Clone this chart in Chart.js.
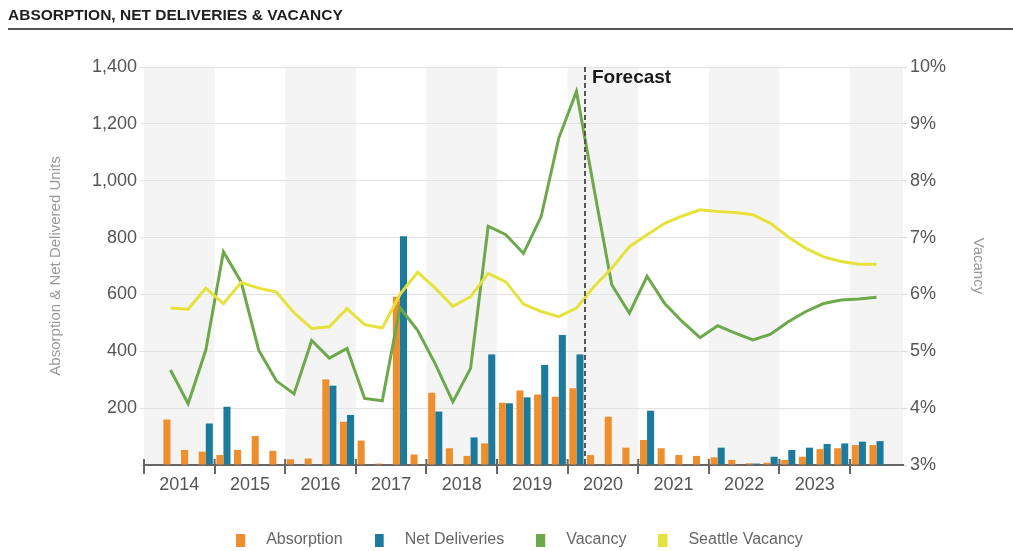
<!DOCTYPE html>
<html>
<head>
<meta charset="utf-8">
<script src="https://cdn.jsdelivr.net/npm/chart.js@4.4.1/dist/chart.umd.min.js"></script>
<style>
  body { margin: 0; background: #fff; }
  #wrap { position: relative; width: 1013px; height: 551px; }
  #title {
    position: absolute; left: 8px; right: 0; top: 6px;
    font: bold 15.5px 'Liberation Sans', Arial, sans-serif; line-height: 17px;
    color: #1e1e1e; padding-bottom: 5px; border-bottom: 2px solid #555;
  }
  canvas { position: absolute; left: 0; top: 0; }
</style>
</head>
<body>
<div id="wrap">
  <canvas id="chart" width="1013" height="551"></canvas>
  <div id="title">ABSORPTION, NET DELIVERIES &amp; VACANCY</div>
</div>
<script>
// quarterly series, 2014 Q2 .. 2024 Q2
const quarters = [
  '2014 Q2', '2014 Q3', '2014 Q4',
  '2015 Q1', '2015 Q2', '2015 Q3', '2015 Q4',
  '2016 Q1', '2016 Q2', '2016 Q3', '2016 Q4',
  '2017 Q1', '2017 Q2', '2017 Q3', '2017 Q4',
  '2018 Q1', '2018 Q2', '2018 Q3', '2018 Q4',
  '2019 Q1', '2019 Q2', '2019 Q3', '2019 Q4',
  '2020 Q1', '2020 Q2', '2020 Q3', '2020 Q4',
  '2021 Q1', '2021 Q2', '2021 Q3', '2021 Q4',
  '2022 Q1', '2022 Q2', '2022 Q3', '2022 Q4',
  '2023 Q1', '2023 Q2', '2023 Q3', '2023 Q4',
  '2024 Q1', '2024 Q2'
];
const absorption = [160, 53, 47, 35, 53, 102, 50, 20, 23, 301, 152, 86, 5, 592, 37, 254, 59, 32, 76, 219,
  262, 248, 240, 270, 35, 170, 61, 88, 59, 35, 32, 27, 18, 6, 8, 18, 29, 56, 59, 70, 70];
const netDeliveries = [0, 0, 146, 205, 0, 0, 0, 0, 0, 279, 176, 0, 0, 805, 0, 188, 0, 97, 389, 217,
  238, 352, 457, 389, 0, 0, 0, 191, 0, 0, 0, 61, 0, 5, 29, 53, 61, 74, 76, 82, 84];
const vacancy = [4.67, 4.08, 5.02, 6.75, 6.22, 5.02, 4.48, 4.25, 5.19, 4.88, 5.05, 4.17, 4.13, 5.77, 5.37,
  4.78, 4.11, 4.70, 7.20, 7.05, 6.72, 7.37, 8.75, 9.57, 7.85, 6.17, 5.67, 6.32, 5.84, 5.52, 5.24, 5.45,
  5.32, 5.20, 5.30, 5.52, 5.70, 5.84, 5.90, 5.92, 5.95];
const seattleVacancy = [5.76, 5.74, 6.11, 5.84, 6.21, 6.11, 6.04, 5.68, 5.40, 5.43, 5.75, 5.47, 5.41, 6.00,
  6.39, 6.11, 5.79, 5.96, 6.37, 6.22, 5.83, 5.70, 5.61, 5.76, 6.14, 6.46, 6.84, 7.05, 7.25, 7.38, 7.49,
  7.46, 7.44, 7.40, 7.25, 7.01, 6.81, 6.66, 6.58, 6.53, 6.53];
const yearLabels = [2014, 2015, 2016, 2017, 2018, 2019, 2020, 2021, 2022, 2023];
const forecastStart = '2020 Q2';

const colors = { absorption: '#ee8e2c', net: '#1c7a9c', vacancy: '#6da84b', seattle: '#e6e23c' };
Chart.defaults.font.family = "'Liberation Sans', Arial, sans-serif";

// place a quarter in the middle of its slot on a year axis
function quarterPos(label) {
  const parts = label.split(' Q');
  return Number(parts[0]) + (Number(parts[1]) - 0.5) / 4;
}
const toPoints = vals => vals.map((v, i) => ({ x: quarterPos(quarters[i]), y: v }));

function swatch(color) {
  const c = document.createElement('canvas');
  c.width = 22; c.height = 13;
  const g = c.getContext('2d');
  g.fillStyle = color;
  g.fillRect(0, 0, 9, 13);
  return c;
}

const bandsAndForecast = {
  id: 'bandsAndForecast',
  beforeDraw(chart) {
    const { ctx, chartArea: a, scales: { x } } = chart;
    ctx.save();
    ctx.fillStyle = '#f4f4f4';
    for (let yr = yearLabels[0]; yr < x.max; yr += 2) {
      const l = x.getPixelForValue(yr);
      const r = x.getPixelForValue(Math.min(yr + 1, x.max));
      ctx.fillRect(l, a.top, r - l, a.bottom - a.top);
    }
    ctx.restore();
  },
  afterDatasetsDraw(chart) {
    const { ctx, chartArea: a, scales: { x } } = chart;
    ctx.save();
    // year ticks poke a little above the axis line
    ctx.strokeStyle = '#666';
    ctx.lineWidth = 2;
    yearLabels.concat(yearLabels[yearLabels.length - 1] + 1).forEach(yr => {
      const px = x.getPixelForValue(yr);
      ctx.beginPath();
      ctx.moveTo(px, a.bottom - 6);
      ctx.lineTo(px, a.bottom);
      ctx.stroke();
    });
    const fx = Math.round(x.getPixelForValue(quarterPos(forecastStart) - 0.125));
    ctx.strokeStyle = '#555';
    ctx.setLineDash([5, 3]);
    ctx.beginPath();
    ctx.moveTo(fx, a.top);
    ctx.lineTo(fx, a.bottom);
    ctx.stroke();
    ctx.setLineDash([]);
    ctx.fillStyle = '#1a1a1a';
    ctx.font = "bold 19px 'Liberation Sans', Arial, sans-serif";
    ctx.textBaseline = 'middle';
    ctx.fillText('Forecast', fx + 7, a.top + 11);
    ctx.restore();
  }
};

new Chart(document.getElementById('chart'), {
  type: 'bar',
  data: {
    datasets: [
      { label: 'Absorption', data: toPoints(absorption), backgroundColor: colors.absorption,
        categoryPercentage: 0.8, barPercentage: 1.0, yAxisID: 'y', order: 2 },
      { label: 'Net Deliveries', data: toPoints(netDeliveries), backgroundColor: colors.net,
        categoryPercentage: 0.8, barPercentage: 1.0, yAxisID: 'y', order: 2 },
      { type: 'line', label: 'Vacancy', data: toPoints(vacancy), borderColor: colors.vacancy,
        backgroundColor: colors.vacancy, borderWidth: 3, pointRadius: 0, tension: 0, yAxisID: 'y1', order: 1 },
      { type: 'line', label: 'Seattle Vacancy', data: toPoints(seattleVacancy), borderColor: colors.seattle,
        backgroundColor: colors.seattle, borderWidth: 3, pointRadius: 0, tension: 0, yAxisID: 'y1', order: 0 }
    ]
  },
  options: {
    responsive: false,
    animation: false,
    layout: { padding: { top: 67, left: 26, right: 0, bottom: -7 } },
    plugins: {
      tooltip: { enabled: false },
      legend: {
        position: 'bottom',
        labels: {
          sort: (a, b) => a.datasetIndex - b.datasetIndex,
          usePointStyle: true, pointStyleWidth: 22, boxHeight: 13, padding: 32,
          color: '#666', font: { size: 16 },
          generateLabels: chart => Chart.defaults.plugins.legend.labels.generateLabels(chart)
            .map(l => Object.assign(l, { pointStyle: swatch(l.fillStyle), lineWidth: 0 }))
        }
      }
    },
    scales: {
      x: {
        type: 'linear', min: 2014, max: 2024.75, offset: false,
        afterBuildTicks: s => {
          const t = [];
          yearLabels.forEach(yr => { t.push({ value: yr }); t.push({ value: yr + 0.5 }); });
          t.push({ value: yearLabels[yearLabels.length - 1] + 1 });
          s.ticks = t;
        },
        afterFit: s => { s.height = 35; },
        ticks: {
          autoSkip: false, maxRotation: 0, padding: 0, color: '#555', font: { size: 18 },
          callback: v => (v % 1 ? String(Math.floor(v)) : '')
        },
        grid: {
          offset: false, drawOnChartArea: false, drawTicks: true, tickLength: 9, lineWidth: 2,
          color: c => (c.tick && c.tick.value % 1 === 0 ? '#666' : 'rgba(0,0,0,0)')
        },
        border: { display: true, color: '#666', width: 2 }
      },
      y: {
        position: 'left', min: 0, max: 1400,
        afterFit: s => { s.width = 118; },
        ticks: {
          stepSize: 200, padding: 3, color: '#555', font: { size: 18 },
          callback: v => (v === 0 ? '' : v.toLocaleString('en-US'))
        },
        grid: { color: '#e2e2e2', tickLength: 4 },
        border: { display: false },
        title: { display: true, text: 'Absorption & Net Delivered Units', color: '#999',
          font: { size: 15 }, padding: { top: 21, bottom: 0 } }
      },
      y1: {
        position: 'right', min: 3, max: 10,
        afterFit: s => { s.width = 110; },
        ticks: { stepSize: 1, padding: 3, color: '#555', font: { size: 18 }, callback: v => v + '%' },
        grid: { drawOnChartArea: false, color: '#d8d8d8', tickLength: 4 },
        border: { display: false },
        title: { display: true, text: 'Vacancy', color: '#999', font: { size: 15 },
          padding: { top: 26, bottom: 0 } }
      }
    }
  },
  plugins: [bandsAndForecast]
});
</script>
</body>
</html>
